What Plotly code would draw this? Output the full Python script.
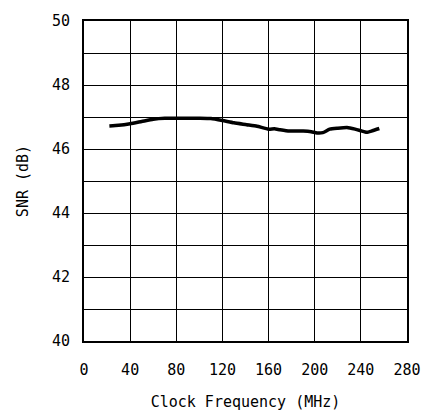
import plotly.graph_objects as go

freq_mhz = [22, 30, 40, 50, 60, 70, 80, 90, 100, 110, 120, 130, 141, 150, 160, 165, 170, 178,
            190, 197, 202, 207, 213, 220, 228, 235, 240, 245, 250, 256]
snr_db = [46.72, 46.74, 46.79, 46.86, 46.93, 46.96, 46.96, 46.96, 46.96, 46.95, 46.89, 46.82,
          46.76, 46.71, 46.62, 46.63, 46.60, 46.56, 46.56, 46.54, 46.50, 46.51, 46.62, 46.65,
          46.67, 46.62, 46.57, 46.52, 46.57, 46.64]

x_ticks = [0, 40, 80, 120, 160, 200, 240, 280]
y_ticks = [40, 42, 44, 46, 48, 50]

FONT = "DejaVu Sans Mono"

fig = go.Figure()
fig.add_trace(go.Scatter(x=freq_mhz, y=snr_db, mode="lines",
                         line=dict(color="black", width=3.5, shape="spline", smoothing=0.5),
                         showlegend=False, hoverinfo="skip"))

fig.update_layout(
    width=433, height=420,
    margin=dict(l=84, r=19, t=19, b=72),
    paper_bgcolor="white", plot_bgcolor="white",
    font=dict(family=FONT, size=15, color="black"),
)
fig.update_xaxes(
    range=[0, 280], tickvals=x_ticks, ticktext=[str(v) for v in x_ticks],
    showgrid=True, gridcolor="black", gridwidth=1,
    showline=True, linecolor="black", linewidth=2, mirror=True,
    ticks="", ticklabelstandoff=14, zeroline=False,
    title=dict(text="Clock Frequency (MHz)", standoff=18, font=dict(family=FONT, size=15)),
)
fig.update_yaxes(
    range=[40, 50], tickvals=y_ticks, ticktext=[str(v) for v in y_ticks],
    showgrid=True, gridcolor="black", gridwidth=1,
    minor=dict(dtick=1, showgrid=True, gridcolor="black", gridwidth=1),
    showline=True, linecolor="black", linewidth=2, mirror=True,
    ticks="", ticklabelstandoff=9, zeroline=False,
    title=dict(text="SNR (dB)", standoff=20, font=dict(family=FONT, size=15)),
)

fig.write_html("out.html")
